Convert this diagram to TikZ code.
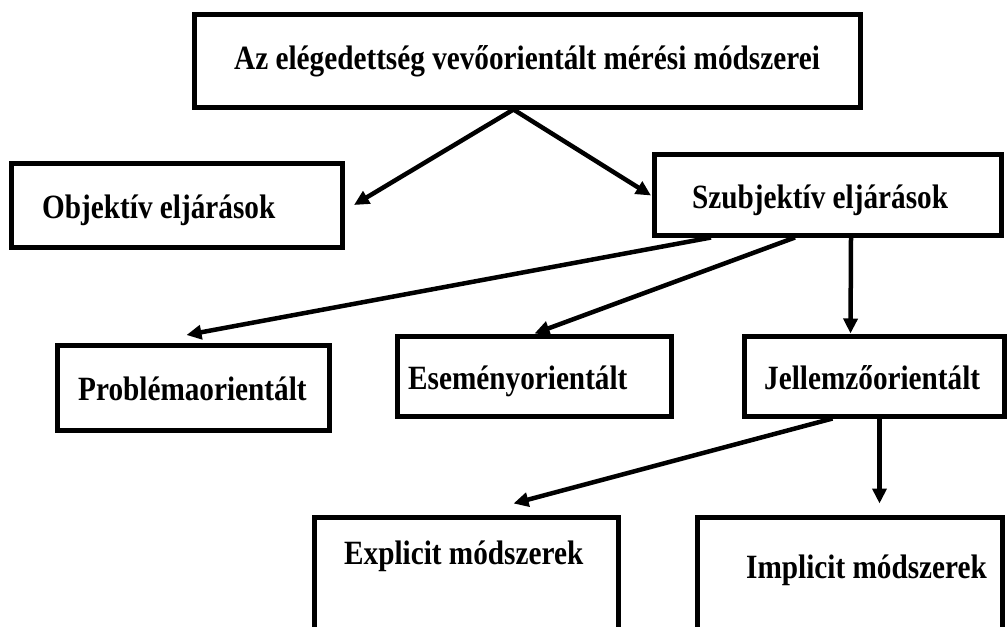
\documentclass[tikz,border=0pt]{standalone}
\usepackage{fontspec}
\setmainfont{Liberation Serif}[FakeStretch=0.86]
\usetikzlibrary{arrows.meta,calc}
\begin{document}
\begin{tikzpicture}[x=1pt,y=-1pt,
  box/.style={draw,line width=5pt,rectangle,inner sep=0pt,fill=white},
  lbl/.style={anchor=base west,inner sep=0pt,font=\fontsize{34}{40}\selectfont\bfseries},
  arr/.style={line width=4.5pt,-{Triangle[length=15pt,width=14pt]}}]
\useasboundingbox (0,0) rectangle (1008,626);
\fill[white] (0,0) rectangle (1008,626);
\clip (0,0) rectangle (1008,626);

% boxes
\node[box,minimum width=666pt,minimum height=92pt] (top)  at (527,61) {};
\node[box,minimum width=331pt,minimum height=84pt] (obj)  at (177,205) {};
\node[box,minimum width=347pt,minimum height=81pt] (szub) at (828,194.5) {};
\node[box,minimum width=272pt,minimum height=85pt] (prob) at (193,388) {};
\node[box,minimum width=274pt,minimum height=80pt] (esem) at (534,376) {};
\node[box,minimum width=260pt,minimum height=80pt] (jell) at (874,376) {};
\node[box,minimum width=304pt,minimum height=150pt] (expl) at (466,592) {};
\node[box,minimum width=305pt,minimum height=150pt] (impl) at (849.5,592) {};

% labels
\node[lbl] (ttop)  at (234,70)  {Az elégedettség vevőorientált mérési módszerei};
\node[lbl] (tobj)  at (42,218)  {Objektív eljárások};
\node[lbl] (tszub) at (692,208) {Szubjektív eljárások};
\node[lbl] (tprob) at (78,400)  {Problémaorientált};
\node[lbl] (tesem) at (408,389) {Eseményorientált};
\node[lbl] (tjell) at (764,389) {Jellemzőorientált};
\node[lbl] (texpl) at (344,564) {Explicit módszerek};
\node[lbl] (timpl) at (746,578) {Implicit módszerek};

% connectors
\draw[arr] ($(top.south west)+(322,0)$) -- ($(obj.east)+(9,0)$);
\draw[arr] ($(top.south west)+(322,0)$) -- ($(szub.west)+(-1,1)$);
\draw[arr] ($(szub.south west)+(59,0)$) -- ($(prob.north west)+(132,-8)$);
\draw[arr] ($(szub.south west)+(143,0)$) -- ($(esem.north west)+(140,0)$);
\draw[arr] ($(szub.south west)+(199,0)$) -- ($(jell.north west)+(109,0)$);
\draw[arr] ($(jell.south west)+(91,0)$) -- ($(expl.north west)+(202,-11)$);
\draw[arr] ($(jell.south west)+(138,0)$) -- ($(impl.north west)+(185,-11)$);
\end{tikzpicture}
\end{document}
